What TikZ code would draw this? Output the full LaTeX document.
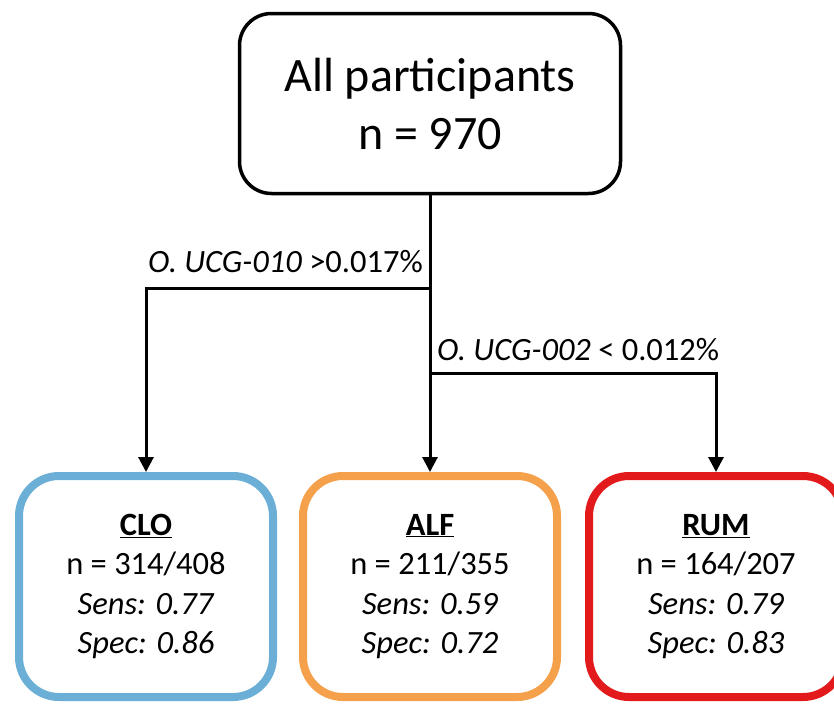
\documentclass[tikz,border=0pt]{standalone}
\usepackage{fontspec}
\setmainfont{Carlito}
\usepackage{tikz}
\usetikzlibrary{positioning}
\usetikzlibrary{arrows.meta}
\definecolor{cloblue}{HTML}{6BAED6}
\definecolor{alforange}{HTML}{F5A04B}
\definecolor{rumred}{HTML}{E31A1C}
\tikzset{
    rootbox/.style={draw, line width=3.5pt, rounded corners=32pt, align=center,
        minimum width=381pt, minimum height=180pt, font=\fontsize{48}{58}\selectfont}, % 顶部节点
    leafbox/.style={draw, line width=8pt, rounded corners=40pt, align=center,
        minimum width=254pt, minimum height=221pt, font=\fontsize{32.5}{39.5}\selectfont}, % 底部节点
    split/.style={line width=3pt, -{Triangle[width=15pt,length=15pt]}},
    cond/.style={inner sep=0pt, font=\fontsize{32.5}{38}\selectfont}
}

\begin{document}
\begin{tikzpicture}[x=1pt, y=-1pt]

    \useasboundingbox (0,0) rectangle (834,704);
    \clip (0,0) rectangle (834,704);

    \node[rootbox] (all) at (430,103.5) {All participants\\n = 970};

    \node[leafbox, cloblue] (clo) at (146,586.5)
        {\color{black}\underline{\textbf{CLO}}\\\color{black}n = 314/408\\\color{black}\textit{Sens: 0.77}\\\color{black}\textit{Spec: 0.86}};
    \node[leafbox, alforange] (alf) at (430,586.5)
        {\color{black}\underline{\textbf{ALF}}\\\color{black}n = 211/355\\\color{black}\textit{Sens: 0.59}\\\color{black}\textit{Spec: 0.72}};
    \node[leafbox, rumred] (rum) at (716,586.5)
        {\color{black}\underline{\textbf{RUM}}\\\color{black}n = 164/207\\\color{black}\textit{Sens: 0.79}\\\color{black}\textit{Spec: 0.83}};

    \coordinate (s1) at (430,288);
    \coordinate (s2) at (430,373);

    \draw[split] (all.south) -- (alf.north);
    \draw[split] (s1) -| (clo.north);
    \draw[split] (s2) -| (rum.north);

    \node[cond, anchor=base east] (c1) at ([xshift=-7pt,yshift=16pt]s1) {\textit{O. UCG-010} >0.017\%};
    \node[cond, anchor=base west] (c2) at ([xshift=7pt,yshift=13pt]s2) {\textit{O. UCG-002} < 0.012\%};

\end{tikzpicture}
\end{document}
